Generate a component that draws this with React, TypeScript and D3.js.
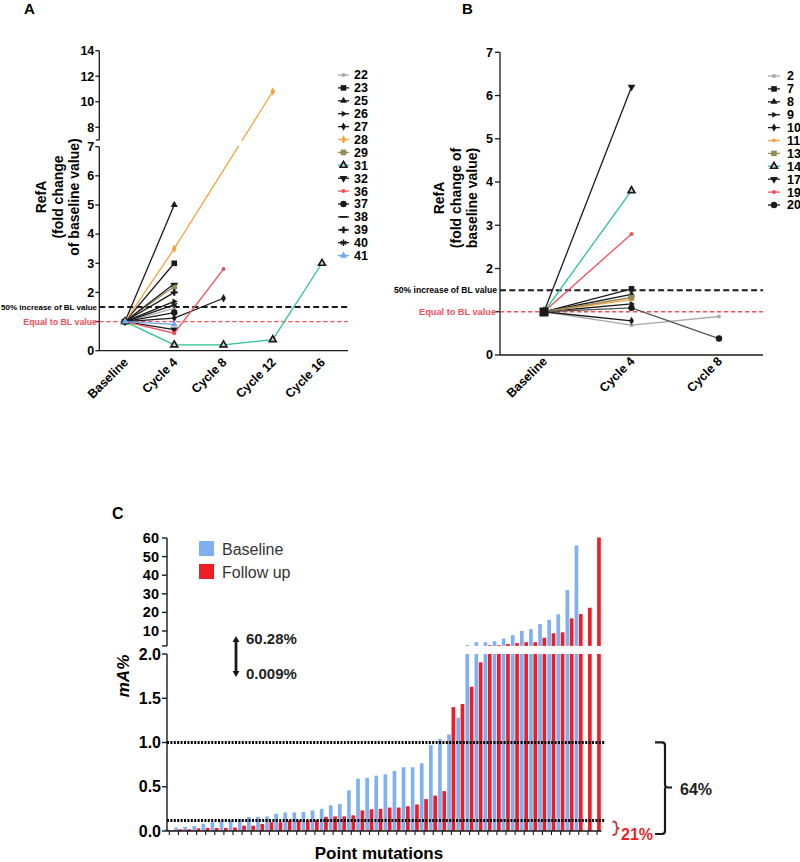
import React from 'react';
import * as d3 from 'd3';

const FONT = 'Liberation Sans, Arial, Helvetica, sans-serif';

// ---------- Panel A data ----------
const aCategories = ['Baseline', 'Cycle 4', 'Cycle 8', 'Cycle 12', 'Cycle 16'];
const aSeriesIds = ['22', '23', '25', '26', '27', '28', '29', '31', '32', '36', '37', '38', '39', '40', '41'];
const aSeriesValues: (number | null)[][] = [
  [1, 1.45, null, null, null],
  [1, 3.0, null, null, null],
  [1, 5.0, null, null, null],
  [1, 1.69, null, null, null],
  [1, 1.12, 1.8, null, null],
  [1, 3.5, null, 10.8, null],
  [1, 2.2, null, null, null],
  [1, 0.2, 0.2, 0.38, 3.0],
  [1, 0.72, null, null, null],
  [1, 0.6, 2.8, null, null],
  [1, 1.31, null, null, null],
  [1, 2.3, null, null, null],
  [1, 2.0, null, null, null],
  [1, 1.57, null, null, null],
  [1, 0.9, null, null, null],
];
const aYTicksLow = [0, 1, 2, 3, 4, 5, 6, 7];
const aYTicksHigh = [8, 10, 12, 14];
const refLineValues = [1.5, 1.0];
const refLineLabels = ['50% increase of BL value', 'Equal to BL value'];

// ---------- Panel B data ----------
const bCategories = ['Baseline', 'Cycle 4', 'Cycle 8'];
const bSeriesIds = ['2', '7', '8', '9', '10', '11', '13', '14', '17', '19', '20'];
const bSeriesValues: (number | null)[][] = [
  [1, 0.69, 0.89],
  [1, 1.53, null],
  [1, 1.4, null],
  [1, 1.18, null],
  [1, 0.79, null],
  [1, 1.28, null],
  [1, 1.33, null],
  [1, 3.8, null],
  [1, 6.2, null],
  [1, 2.8, null],
  [1, 1.09, 0.38],
];
const bYTicks = [0, 1, 2, 3, 4, 5, 6, 7];

// ---------- Panel C data ----------
const cBaseline: (number | null)[] = [
  0.02, 0.038, 0.045, 0.056, 0.083, 0.1, 0.117, 0.12, 0.135, 0.158,
  0.16, 0.165, 0.195, 0.21, 0.21, 0.214, 0.233, 0.25, 0.29, 0.305,
  0.46, 0.59, 0.6, 0.625, 0.64, 0.68, 0.72, 0.72, 0.765, 0.97,
  1.04, 1.09, 1.28, 2.5, 4, 4, 4.5, 5.9, 7.7, 10,
  11, 13.7, 16, 19, 32, 56, null, null,
];
const cFollowUp: (number | null)[] = [
  0.009, 0.02, 0.02, 0.03, 0.035, 0.035, 0.035, 0.04, 0.06, 0.06,
  0.08, 0.1, 0.1, 0.12, 0.12, 0.12, 0.125, 0.16, 0.165, 0.165,
  0.177, 0.233, 0.245, 0.25, 0.265, 0.265, 0.28, 0.3, 0.36, 0.4,
  0.45, 1.4, 1.435, 1.63, 1.906, 2.4, 2.4, 3, 3.5, 4,
  4, 6.4, 8.8, 9.3, 16.8, 19.1, 22.5, 60.28,
];
const cSeriesNames = ['Baseline', 'Follow up'];
const cYTicksLow = [0, 0.5, 1, 1.5, 2];
const cYTicksHigh = [10, 20, 30, 40, 50, 60];
const cRefLines = [1.0, 0.12];
const cRangeLabels = ['60.28%', '0.009%'];
const cShareLabels = ['64%', '21%'];

// ---------- styles ----------
const BLACK = '#1a1a1a';
const GRAY = '#a9a9a9';
const ORANGE = '#f5a440';
const OLIVE = '#958a58';
const GREEN = '#29c291';
const RED = '#f0505a';
const LBLUE = '#6ea9f0';

const aStyle: Record<string, { color: string; marker: string }> = {
  '22': { color: GRAY, marker: 'dot' },
  '23': { color: BLACK, marker: 'square' },
  '25': { color: BLACK, marker: 'triangle' },
  '26': { color: BLACK, marker: 'triangleRight' },
  '27': { color: BLACK, marker: 'diamond' },
  '28': { color: ORANGE, marker: 'diamond' },
  '29': { color: OLIVE, marker: 'square' },
  '31': { color: GREEN, marker: 'triangleOpen' },
  '32': { color: BLACK, marker: 'triangleDown' },
  '36': { color: RED, marker: 'dot' },
  '37': { color: BLACK, marker: 'circle' },
  '38': { color: BLACK, marker: 'dash' },
  '39': { color: BLACK, marker: 'plus' },
  '40': { color: BLACK, marker: 'asterisk' },
  '41': { color: LBLUE, marker: 'triangle' },
};
const bStyle: Record<string, { color: string; marker: string }> = {
  '2': { color: GRAY, marker: 'dot' },
  '7': { color: BLACK, marker: 'square' },
  '8': { color: BLACK, marker: 'triangle' },
  '9': { color: BLACK, marker: 'triangleRight' },
  '10': { color: BLACK, marker: 'diamond' },
  '11': { color: ORANGE, marker: 'dot' },
  '13': { color: OLIVE, marker: 'square' },
  '14': { color: GREEN, marker: 'triangleOpen' },
  '17': { color: BLACK, marker: 'triangleDown' },
  '19': { color: RED, marker: 'dot' },
  '20': { color: BLACK, marker: 'circle' },
};
const C_BLUE = '#7fb0f2';
const C_RED = '#ef1d25';

function Marker({ shape, x, y, color }: { shape: string; x: number; y: number; color: string }) {
  const fill = color;
  switch (shape) {
    case 'dot':
      return <circle cx={x} cy={y} r={2} fill={fill} />;
    case 'circle':
      return <circle cx={x} cy={y} r={3.2} fill={fill} />;
    case 'square':
      return <rect x={x - 2.8} y={y - 2.8} width={5.6} height={5.6} fill={fill} />;
    case 'triangle':
      return <path d={d3.symbol(d3.symbolTriangle, 22)() as string} transform={`translate(${x},${y})`} fill={fill} />;
    case 'triangleDown':
      return <path d={d3.symbol(d3.symbolTriangle, 26)() as string} transform={`translate(${x},${y}) rotate(180)`} fill={fill} />;
    case 'triangleRight':
      return <path d={d3.symbol(d3.symbolTriangle, 16)() as string} transform={`translate(${x},${y}) rotate(90)`} fill={fill} />;
    case 'triangleOpen':
      return <path d={d3.symbol(d3.symbolTriangle, 20)() as string} transform={`translate(${x},${y})`} fill="#dcdcdc" stroke={BLACK} strokeWidth={1.7} />;
    case 'diamond':
      return <path d={d3.symbol(d3.symbolDiamond, 20)() as string} transform={`translate(${x},${y})`} fill={fill} />;
    case 'plus':
      return <path d={d3.symbol(d3.symbolCross, 26)() as string} transform={`translate(${x},${y})`} fill={fill} />;
    case 'asterisk':
      return <path d={d3.symbol(d3.symbolAsterisk, 30)() as string} transform={`translate(${x},${y})`} fill="none" stroke={fill} strokeWidth={1.4} />;
    case 'dash':
      return <rect x={x - 3.5} y={y - 0.9} width={7} height={1.8} fill={fill} />;
    default:
      return null;
  }
}

// ---------- Panel A ----------
function PanelA() {
  const x = d3.scalePoint<string>().domain(aCategories).range([125, 322]);
  const yLow = d3.scaleLinear().domain([0, 7]).range([350.7, 146.7]);
  const yHigh = d3.scaleLinear().domain([7, 14]).range([140, 50.7]);
  const y = (v: number) => (v <= 7 ? yLow(v) : yHigh(v));
  const axisX = 99.3;
  const xEnd = 348;
  const line = d3
    .line<{ c: string; v: number }>()
    .x((d) => x(d.c) as number)
    .y((d) => y(d.v));
  return (
    <g fontFamily={FONT}>
      <text x={24} y={14} fontSize={15} fontWeight="bold">A</text>
      {['RefA', '(fold change', 'of baseline value)'].map((t, i) => (
        <text key={t} transform={`translate(${46 + i * 16.5},197) rotate(-90)`} textAnchor="middle" fontSize={14} fontWeight="bold">{t}</text>
      ))}
      <line x1={axisX} x2={axisX} y1={yHigh(14)} y2={yHigh(7)} stroke={BLACK} strokeWidth={1.3} />
      <line x1={axisX} x2={axisX} y1={yLow(7)} y2={yLow(0)} stroke={BLACK} strokeWidth={1.3} />
      <line x1={axisX - 3.5} x2={axisX} y1={yHigh(7)} y2={yHigh(7)} stroke={BLACK} strokeWidth={1.3} />
      {aYTicksHigh.map((t) => (
        <g key={'h' + t}>
          <line x1={axisX - 4} x2={axisX} y1={yHigh(t)} y2={yHigh(t)} stroke={BLACK} strokeWidth={1.3} />
          <text x={axisX - 5} y={yHigh(t) + 4.3} textAnchor="end" fontSize={12.5} fontWeight="bold">{t}</text>
        </g>
      ))}
      {aYTicksLow.map((t) => (
        <g key={'l' + t}>
          <line x1={axisX - 4} x2={axisX} y1={yLow(t)} y2={yLow(t)} stroke={BLACK} strokeWidth={1.3} />
          {t !== 1 && (
            <text x={axisX - 5} y={yLow(t) + 4.3} textAnchor="end" fontSize={12.5} fontWeight="bold">{t}</text>
          )}
        </g>
      ))}
      <line x1={axisX} x2={xEnd} y1={yLow(0)} y2={yLow(0)} stroke={BLACK} strokeWidth={1.3} />
      {aCategories.map((c) => (
        <text key={c} transform={`translate(${(x(c) as number) + 4},363) rotate(-45)`} textAnchor="end" fontSize={12.5} fontWeight="bold">{c}</text>
      ))}
      <line x1={axisX} x2={xEnd} y1={y(refLineValues[0])} y2={y(refLineValues[0])} stroke={BLACK} strokeWidth={2} strokeDasharray="6 3.3" />
      <line x1={axisX} x2={xEnd} y1={y(refLineValues[1])} y2={y(refLineValues[1])} stroke={RED} strokeWidth={1.3} strokeDasharray="4.3 2.7" />
      <text x={97} y={y(refLineValues[0]) + 2.7} textAnchor="end" fontSize={8} fontWeight="bold">{refLineLabels[0]}</text>
      <text x={97} y={y(refLineValues[1]) + 3} textAnchor="end" fontSize={8.8} fontWeight="bold" fill={RED}>{refLineLabels[1]}</text>
      {aSeriesIds.map((id, i) => {
        const pts = aSeriesValues[i]
          .map((v, j) => ({ c: aCategories[j], v }))
          .filter((d) => d.v !== null) as { c: string; v: number }[];
        const st = aStyle[id];
        return (
          <g key={id}>
            <path d={line(pts) as string} fill="none" stroke={st.color} strokeWidth={1.3} />
            {pts.map((p, k) => (
              <Marker key={k} shape={st.marker} x={x(p.c) as number} y={y(p.v)} color={st.marker === 'triangleOpen' ? BLACK : st.color} />
            ))}
          </g>
        );
      })}
      <rect x={101} y={140.8} width={230} height={5.2} fill="#fff" />
      {aSeriesIds.map((id, i) => {
        const ly = 75 + i * 12.9;
        const st = aStyle[id];
        return (
          <g key={'lg' + id}>
            <line x1={338} x2={349} y1={ly} y2={ly} stroke={st.color} strokeWidth={1.3} />
            <Marker shape={st.marker} x={343.5} y={ly} color={st.marker === 'triangleOpen' ? BLACK : st.color} />
            <text x={354} y={ly + 4.4} fontSize={12.5} fontWeight="bold">{id}</text>
          </g>
        );
      })}
    </g>
  );
}

// ---------- Panel B ----------
function PanelB() {
  const x = d3.scalePoint<string>().domain(bCategories).range([544, 719]);
  const y = d3.scaleLinear().domain([0, 7]).range([355, 52.3]);
  const axisX = 500;
  const xEnd = 763;
  const line = d3
    .line<{ c: string; v: number }>()
    .x((d) => x(d.c) as number)
    .y((d) => y(d.v));
  return (
    <g fontFamily={FONT}>
      <text x={462} y={14} fontSize={15} fontWeight="bold">B</text>
      {['RefA', '(fold change of', 'baseline value)'].map((t, i) => (
        <text key={t} transform={`translate(${444 + i * 16.5},198) rotate(-90)`} textAnchor="middle" fontSize={14} fontWeight="bold">{t}</text>
      ))}
      <line x1={axisX} x2={axisX} y1={y(7)} y2={y(0)} stroke={BLACK} strokeWidth={1.3} />
      {bYTicks.map((t) => (
        <g key={t}>
          <line x1={axisX - 5} x2={axisX} y1={y(t)} y2={y(t)} stroke={BLACK} strokeWidth={1.3} />
          {t !== 1 && (
            <text x={axisX - 7} y={y(t) + 4.3} textAnchor="end" fontSize={12.5} fontWeight="bold">{t}</text>
          )}
        </g>
      ))}
      <line x1={axisX} x2={xEnd} y1={y(0)} y2={y(0)} stroke={BLACK} strokeWidth={1.3} />
      {bCategories.map((c) => (
        <text key={c} transform={`translate(${(x(c) as number) + 4},362) rotate(-45)`} textAnchor="end" fontSize={12.5} fontWeight="bold">{c}</text>
      ))}
      <line x1={axisX} x2={xEnd} y1={y(refLineValues[0])} y2={y(refLineValues[0])} stroke={BLACK} strokeWidth={2} strokeDasharray="6 3.3" />
      <line x1={axisX} x2={xEnd} y1={y(refLineValues[1])} y2={y(refLineValues[1])} stroke={RED} strokeWidth={1.3} strokeDasharray="4.3 2.7" />
      <text x={497} y={y(refLineValues[0]) + 2.8} textAnchor="end" fontSize={8.6} fontWeight="bold">{refLineLabels[0]}</text>
      <text x={496} y={y(refLineValues[1]) + 3.2} textAnchor="end" fontSize={9.2} fontWeight="bold" fill={RED}>{refLineLabels[1]}</text>
      {bSeriesIds.map((id, i) => {
        const pts = bSeriesValues[i]
          .map((v, j) => ({ c: bCategories[j], v }))
          .filter((d) => d.v !== null) as { c: string; v: number }[];
        const st = bStyle[id];
        const lineColor = id === '20' ? '#555' : st.color;
        return (
          <g key={id}>
            <path d={line(pts) as string} fill="none" stroke={lineColor} strokeWidth={1.3} />
            {pts.map((p, k) => (
              <Marker key={k} shape={st.marker} x={x(p.c) as number} y={y(p.v)} color={st.marker === 'triangleOpen' ? BLACK : st.color} />
            ))}
          </g>
        );
      })}
      <rect x={539.5} y={307.5} width={9} height={9} fill={BLACK} />
      {bSeriesIds.map((id, i) => {
        const ly = 76 + i * 12.9;
        const st = bStyle[id];
        return (
          <g key={'lg' + id}>
            <line x1={768} x2={780} y1={ly} y2={ly} stroke={st.color} strokeWidth={1.3} />
            <Marker shape={st.marker} x={774} y={ly} color={st.marker === 'triangleOpen' ? BLACK : st.color} />
            <text x={787} y={ly + 4.4} fontSize={12.5} fontWeight="bold">{id}</text>
          </g>
        );
      })}
    </g>
  );
}

// ---------- Panel C ----------
function PanelC() {
  const idx = d3.range(cBaseline.length);
  const x = d3.scaleBand<number>().domain(idx).range([164.75, 601.55]);
  const sub = d3.scaleBand<string>().domain(cSeriesNames).range([-4.2, 3.8]).paddingInner(0.15);
  const yLow = d3.scaleLinear().domain([0, 2]).range([831, 654]);
  const yHigh = d3.scaleLinear().domain([2, 60]).range([645.9, 538]);
  const axisX = 167;
  const center = (i: number) => (x(i) as number) + x.bandwidth() / 2;
  const bars = (vals: (number | null)[], name: string, color: string) =>
    vals.map((v, i) => {
      if (v === null) return null;
      const bx = center(i) + (sub(name) as number);
      const w = sub.bandwidth();
      const low = Math.min(v, 2);
      return (
        <g key={name + i}>
          <rect x={bx} y={yLow(low)} width={w} height={yLow(0) - yLow(low)} fill={color} />
          {v > 2 && <rect x={bx} y={yHigh(v)} width={w} height={yHigh(2) - yHigh(v)} fill={color} />}
        </g>
      );
    });
  return (
    <g fontFamily={FONT}>
      <text x={112} y={519} fontSize={16} fontWeight="bold">C</text>
      <text transform={`translate(129,676) rotate(-90)`} textAnchor="middle" fontSize={17} fontWeight="bold" fontStyle="italic">mA%</text>
      {bars(cBaseline, cSeriesNames[0], C_BLUE)}
      {bars(cFollowUp, cSeriesNames[1], C_RED)}
      <line x1={axisX} x2={axisX} y1={yHigh(60)} y2={yHigh(2)} stroke={BLACK} strokeWidth={1.4} />
      <line x1={axisX - 5} x2={axisX} y1={yHigh(2)} y2={yHigh(2)} stroke={BLACK} strokeWidth={1.4} />
      <line x1={axisX} x2={axisX} y1={yLow(2)} y2={yLow(0)} stroke={BLACK} strokeWidth={1.4} />
      {cYTicksHigh.map((t) => (
        <g key={'h' + t}>
          <line x1={axisX - 5} x2={axisX} y1={yHigh(t)} y2={yHigh(t)} stroke={BLACK} strokeWidth={1.4} />
          <text x={axisX - 8} y={yHigh(t) + 5} textAnchor="end" fontSize={14.5} fontWeight="bold">{t}</text>
        </g>
      ))}
      {cYTicksLow.map((t) => (
        <g key={'l' + t}>
          <line x1={axisX - 5} x2={axisX} y1={yLow(t)} y2={yLow(t)} stroke={BLACK} strokeWidth={1.4} />
          <text x={axisX - 6} y={yLow(t) + 5.5} textAnchor="end" fontSize={16} fontWeight="bold">{d3.format('.1f')(t)}</text>
        </g>
      ))}
      <line x1={axisX} x2={601.5} y1={yLow(0)} y2={yLow(0)} stroke={BLACK} strokeWidth={1.4} />
      {idx.map((i) => (
        <line key={'t' + i} x1={center(i)} x2={center(i)} y1={yLow(0)} y2={yLow(0) + 4} stroke={BLACK} strokeWidth={1.1} />
      ))}
      {cRefLines.map((v) => (
        <line key={'r' + v} x1={axisX} x2={605} y1={yLow(v)} y2={yLow(v)} stroke="#000" strokeWidth={3} strokeDasharray="2 1.4" />
      ))}
      <text x={379} y={859} textAnchor="middle" fontSize={17} fontWeight="bold">Point mutations</text>
      <rect x={199} y={541} width={15} height={15} fill={C_BLUE} />
      <text x={222} y={555} fontSize={16} fill="#333">{cSeriesNames[0]}</text>
      <rect x={199} y={564} width={15} height={15} fill={C_RED} />
      <text x={222} y={578} fontSize={16} fill="#333">{cSeriesNames[1]}</text>
      <line x1={236} x2={236} y1={641} y2={672} stroke={BLACK} strokeWidth={2.8} />
      <path d="M232.5,642 L236,636 L239.5,642 Z" fill={BLACK} />
      <path d="M232.5,671 L236,677 L239.5,671 Z" fill={BLACK} />
      <text x={246} y={644} fontSize={15} fontWeight="bold" fill="#222">{cRangeLabels[0]}</text>
      <text x={246} y={679} fontSize={15} fontWeight="bold" fill="#222">{cRangeLabels[1]}</text>
      <path d="M655,742.3 L662,742.3 Q665,742.3 665,745.5 L665,784.5 Q665,787.5 668,787.5 L672,787.5 M665,787.5 Q665,790.5 665,793.5 L665,830.8 Q665,834 662,834 L655,834" fill="none" stroke={BLACK} strokeWidth={2.2} />
      <text x={680} y={795} fontSize={16} fontWeight="bold" fill="#222">{cShareLabels[0]}</text>
      <path d="M612.5,821.5 Q616.5,821.5 616.5,824.5 L616.5,826 Q616.5,828.3 619.5,828.3 Q616.5,828.3 616.5,830.6 L616.5,832 Q616.5,835 612.5,835" fill="none" stroke="#b5403a" strokeWidth={1.8} />
      <text x={621} y={840} fontSize={16} fontWeight="bold" fill={C_RED}>{cShareLabels[1]}</text>
    </g>
  );
}

export default function App() {
  return (
    <svg width={800} height={862} viewBox="0 0 800 862" style={{ position: 'absolute', left: 0, top: 0, background: '#fff' }}>
      <rect width={800} height={862} fill="#fff" />
      <PanelA />
      <PanelB />
      <PanelC />
    </svg>
  );
}
